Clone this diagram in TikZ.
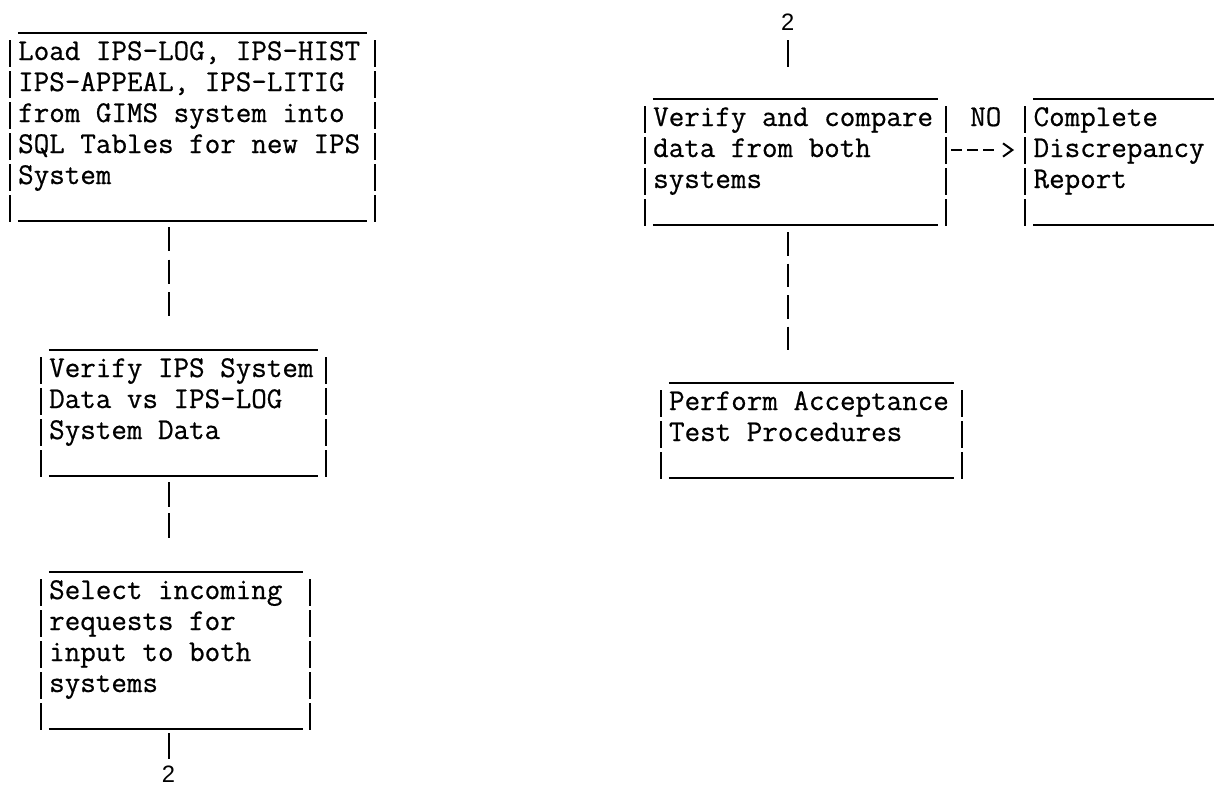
\documentclass[tikz,border=0pt]{standalone}
\usepackage{fontspec}
\newfontfamily\numfont{Liberation Sans}
\newfontfamily\typefont{Latin Modern Mono}[FakeBold=0.6]
\usetikzlibrary{arrows.meta,calc}
\newlength\tcw
\setlength\tcw{11.8875pt}
% #1 name, #2 left bar x (px), #3 top line y (px), #4 text columns, #5 rows (incl. blank last row), #6 text lines
\newcommand\typedbox[6]{%
  \node[frame, anchor=north west, minimum width={(#4+1)*\tcw}, minimum height={(33+(#5-1)*31)*0.75pt}] (#1) at (#2,#3) {};
  \draw[typed] ([xshift=0.5\tcw]#1.north west) -- ([xshift=-0.5\tcw]#1.north east);
  \draw[typed] ([xshift=0.5\tcw]#1.south west) -- ([xshift=-0.5\tcw]#1.south east);
  \foreach \i in {1,...,#5}{%
    \draw[typed] ([yshift={-(7+31*(\i-1))*0.75pt}]#1.north west) -- ([yshift={-(34+31*(\i-1))*0.75pt}]#1.north west);
    \draw[typed] ([yshift={-(7+31*(\i-1))*0.75pt}]#1.north east) -- ([yshift={-(34+31*(\i-1))*0.75pt}]#1.north east);
  }
  \node[boxtext, anchor=base west] (#1t) at ([xshift=0.5\tcw, yshift=-20.25pt]#1.north west) {\begin{tabular}[t]{@{}l@{}}#6\end{tabular}};
}
\begin{document}
\begin{tikzpicture}[x=0.75pt,y=-0.75pt,
  typed/.style={line width=1.5pt, draw=black},
  frame/.style={rectangle, draw=none, inner sep=0pt, outer sep=0pt},
  boxtext/.style={inner sep=0pt, font=\typefont\fontsize{22.64pt}{23.25pt}\selectfont},
  numtext/.style={inner sep=0pt, font=\numfont\fontsize{17.8pt}{20pt}\selectfont},
  link/.style={typed}]
\useasboundingbox (0,0) rectangle (1214,786);
\clip (0,0) rectangle (1214,786);
\fill[white] (0,0) rectangle (1214,786);

\typedbox{b1}{10}{33}{22}{6}{Load IPS-LOG, IPS-HIST\\IPS-APPEAL, IPS-LITIG\\from GIMS system into\\SQL Tables for new IPS\\System}
\typedbox{b2}{41}{350}{17}{4}{Verify IPS System\\Data vs IPS-LOG\\System Data}
\typedbox{b3}{41}{572}{16}{5}{Select incoming\\requests for\\input to both\\systems}
\typedbox{b4}{645}{99}{18}{4}{Verify and compare\\data from both\\systems}
\typedbox{b5}{1025.4}{99}{12}{4}{Complete\\Discrepancy\\Report}
\typedbox{b6}{660.85}{383}{18}{3}{Perform Acceptance\\Test Procedures}

\node[numtext] (n2a) at (168.5,774) {2};
\node[numtext] (n2b) at (787.6,22) {2};
\node[boxtext, anchor=base] (no) at (985.8,126) {NO};

\coordinate (kx1) at (168.5,0);
\coordinate (kx2) at (787.6,0);

\draw[link, shorten <=4.5pt, shorten >=25.5pt, dash pattern=on 18pt off 6.375pt] (b1.south -| kx1) -- (b2.north -| kx1);
\draw[link, shorten <=4.5pt, shorten >=25.5pt, dash pattern=on 18.75pt off 4.5pt] (b2.south -| kx1) -- (b3.north -| kx1);
\draw[link, shorten <=3pt, shorten >=5pt] (b3.south -| kx1) -- (n2a.north);
\draw[link, shorten <=7.1pt, shorten >=24pt] (n2b.south) -- (b4.north -| kx2);
\draw[link, shorten <=5.25pt, shorten >=24.75pt, dash pattern=on 17.625pt off 6pt] (b4.south -| kx2) -- (b6.north -| kx2);
\draw[link, shorten <=3.75pt, shorten >=8.5pt,
  dash pattern=on 8.25pt off 3.75pt on 8.25pt off 3.75pt on 8.25pt off 80pt,
  -{Straight Barb[length=7pt,width=10pt]}]
  ([yshift=-38.25pt]b4.north east) -- ([yshift=-38.25pt]b5.north west);
\end{tikzpicture}
\end{document}
